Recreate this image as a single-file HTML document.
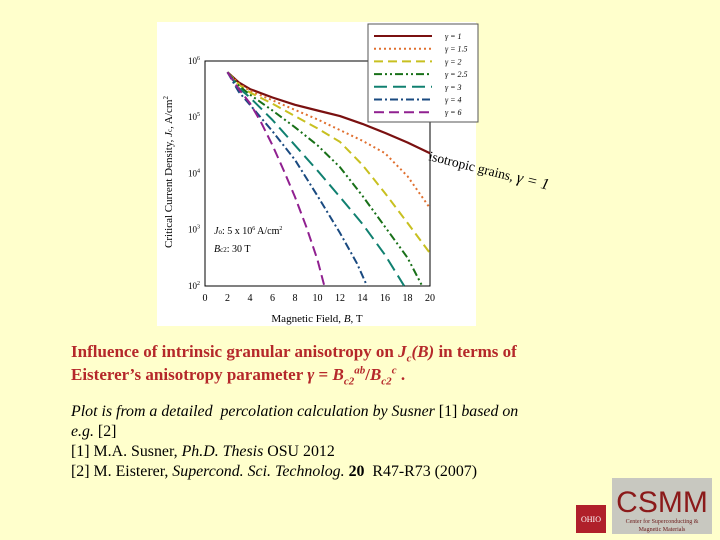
<!DOCTYPE html>
<html><head><meta charset="utf-8"><style>
html,body{margin:0;padding:0;}
body{width:720px;height:540px;background:#ffffcc;position:relative;overflow:hidden;font-family:"Liberation Serif",serif;}
.t{position:absolute;left:71px;top:340px;color:#b5282a;font-weight:bold;font-size:17px;line-height:23px;white-space:nowrap;}
.t sub,.t sup{font-size:11px;line-height:0;}
.b{position:absolute;left:71px;top:402px;color:#000;font-size:15.9px;line-height:20px;white-space:nowrap;}
</style></head><body>
<svg width="720" height="540" style="position:absolute;left:0;top:0">
<rect x="157" y="22" width="319" height="304" fill="#fff"/>
<g id="axes"></g><g id="series"></g>
<g id="legend"></g>
<text x="0" y="0" transform="translate(428,160) rotate(14)" font-family="Liberation Serif" font-size="13.5">isotropic grains,  <tspan font-style="italic" font-size="16">γ = 1</tspan></text>
<g><rect x="576" y="505" width="30" height="28" fill="#b0202a"/><text x="591" y="522" font-size="8" fill="#fff" text-anchor="middle">OHIO</text></g>
<g><rect x="612" y="478" width="100" height="56" fill="#c8c8c0"/><text x="662" y="512" font-size="30" fill="#8b1a1a" text-anchor="middle" font-family="Liberation Sans">CSMM</text><text x="662" y="523" font-size="6" fill="#6b1a1a" text-anchor="middle">Center for Superconducting &amp;</text><text x="662" y="531" font-size="6" fill="#6b1a1a" text-anchor="middle">Magnetic Materials</text></g>
</svg>
<div class="t">Influence of intrinsic granular anisotropy on <i>J<sub>c</sub>(B)</i> in terms of<br>Eisterer’s anisotropy parameter <i>γ</i> = <i>B<sub>c2</sub><sup>ab</sup></i>/<i>B<sub>c2</sub><sup>c</sup></i> .</div>
<div class="b"><i>Plot is from a detailed&nbsp; percolation calculation by Susner</i> [1] <i>based on<br>e.g.</i> [2]<br>[1] M.A. Susner, <i>Ph.D. Thesis</i> OSU 2012<br>[2] M. Eisterer, <i>Supercond. Sci. Technolog.</i> <b>20</b>&nbsp; R47-R73 (2007)</div>
<script>
const xTicks=[0,2,4,6,8,10,12,14,16,18,20];
const yTicks=[6,5,4,3,2];
const seriesNames=["γ = 1","γ = 1.5","γ = 2","γ = 2.5","γ = 3","γ = 4","γ = 6"];
const xs1=[2,3,4,6,8,10,12,14,16,18,20]; const ys1=[5.80,5.62,5.50,5.35,5.22,5.12,5.02,4.88,4.72,4.55,4.36];
const xs15=[2,3,4,6,8,10,12,14,16,18,20]; const ys15=[5.80,5.60,5.47,5.30,5.13,4.96,4.77,4.58,4.36,3.95,3.38];
const xs2=[2,3,4,6,8,10,12,14,16,18,20]; const ys2=[5.80,5.58,5.44,5.24,5.02,4.80,4.56,4.15,3.65,3.12,2.58];
const xs25=[2,3,4,6,8,10,12,14,16,18,19.3]; const ys25=[5.80,5.56,5.40,5.12,4.82,4.50,4.11,3.60,3.05,2.50,2.0];
const xs3=[2,3,4,6,8,10,12,14,16,17.7]; const ys3=[5.80,5.52,5.35,4.95,4.50,4.05,3.58,3.10,2.55,2.0];
const xs4=[2,3,4,6,8,10,12,13.5,14.4]; const ys4=[5.80,5.45,5.22,4.75,4.24,3.60,2.94,2.40,2.0];
const xs6=[2,3,4,5,6,7,8,9,10,10.6]; const ys6=[5.80,5.50,5.25,4.90,4.50,4.05,3.58,3.05,2.46,2.0];
const seriesX=[xs1,xs15,xs2,xs25,xs3,xs4,xs6];
const seriesY=[ys1,ys15,ys2,ys25,ys3,ys4,ys6];
const colors=["#7a1010","#e07030","#c8c020","#187018","#108070","#1a4a80","#902090"];
const dashes=["","2,3","9,5","8,3,2,3,2,3","13,6","8,3,2,3","10,5"];
const X=v=>205+v*(225/20), Y=v=>61+(6-v)*56.2;
const NS="http://www.w3.org/2000/svg";
function mk(t,a,p){const e=document.createElementNS(NS,t);for(const k in a)e.setAttribute(k,a[k]);p.appendChild(e);return e;}
const ax=document.getElementById('axes');
const frame=mk('rect',{x:205,y:61,width:225,height:225,fill:'none',stroke:'#000','stroke-width':1},ax);


xTicks.forEach(v=>{const t=mk('text',{x:X(v),y:301,'font-size':10,'text-anchor':'middle','font-family':'Liberation Serif'},ax);t.textContent=v;

});
yTicks.forEach(v=>{const t=mk('text',{x:200,y:Y(v)+3,'font-size':9,'text-anchor':'end','font-family':'Liberation Serif'},ax);t.textContent='10';const s=mk('tspan',{dy:-4,'font-size':6},t);s.textContent=v;

});
const xt=mk('text',{x:317,y:322,'font-size':11,'text-anchor':'middle','font-family':'Liberation Serif'},ax);xt.innerHTML='Magnetic Field, <tspan font-style="italic">B</tspan>, T';


const yt=mk('text',{x:0,y:0,'font-size':11,'text-anchor':'middle','font-family':'Liberation Serif',transform:'translate(172,172) rotate(-90)'},ax);yt.innerHTML='Critical Current Density, <tspan font-style="italic">J</tspan><tspan font-size="7">c</tspan>, A/cm<tspan dy="-4" font-size="7">2</tspan>';


const n1=mk('text',{x:214,y:234,'font-size':10,'font-family':'Liberation Serif'},ax);n1.innerHTML='<tspan font-style="italic">J</tspan><tspan font-size="7">o</tspan>: 5 x 10<tspan dy="-4" font-size="6">6</tspan><tspan dy="4"> A/cm</tspan><tspan dy="-4" font-size="6">2</tspan>';


const n2=mk('text',{x:214,y:252,'font-size':10,'font-family':'Liberation Serif'},ax);n2.innerHTML='<tspan font-style="italic">B</tspan><tspan font-size="7">c2</tspan>: 30 T';


const sg=document.getElementById('series');
seriesX.forEach((xa,i)=>{const d=xa.map((x,j)=>(j?'L':'M')+X(x).toFixed(1)+','+Y(seriesY[i][j]).toFixed(1)).join(' ');
const p=mk('path',{d:d,fill:'none',stroke:colors[i],'stroke-width':i==0?2.2:2,'stroke-dasharray':dashes[i],'stroke-linejoin':'round'},sg);

});
const lg=document.getElementById('legend');
mk('rect',{x:368,y:24,width:110,height:98,fill:'#fff',stroke:'#555','stroke-width':1},lg);
seriesNames.forEach((n,i)=>{const y=36+i*12.7;mk('line',{x1:374,y1:y,x2:432,y2:y,stroke:colors[i],'stroke-width':2,'stroke-dasharray':dashes[i]},lg);
const t=mk('text',{x:445,y:y+3,'font-size':8,'font-family':'Liberation Serif','font-style':'italic'},lg);t.textContent=n;

});
</script>
</body></html>
